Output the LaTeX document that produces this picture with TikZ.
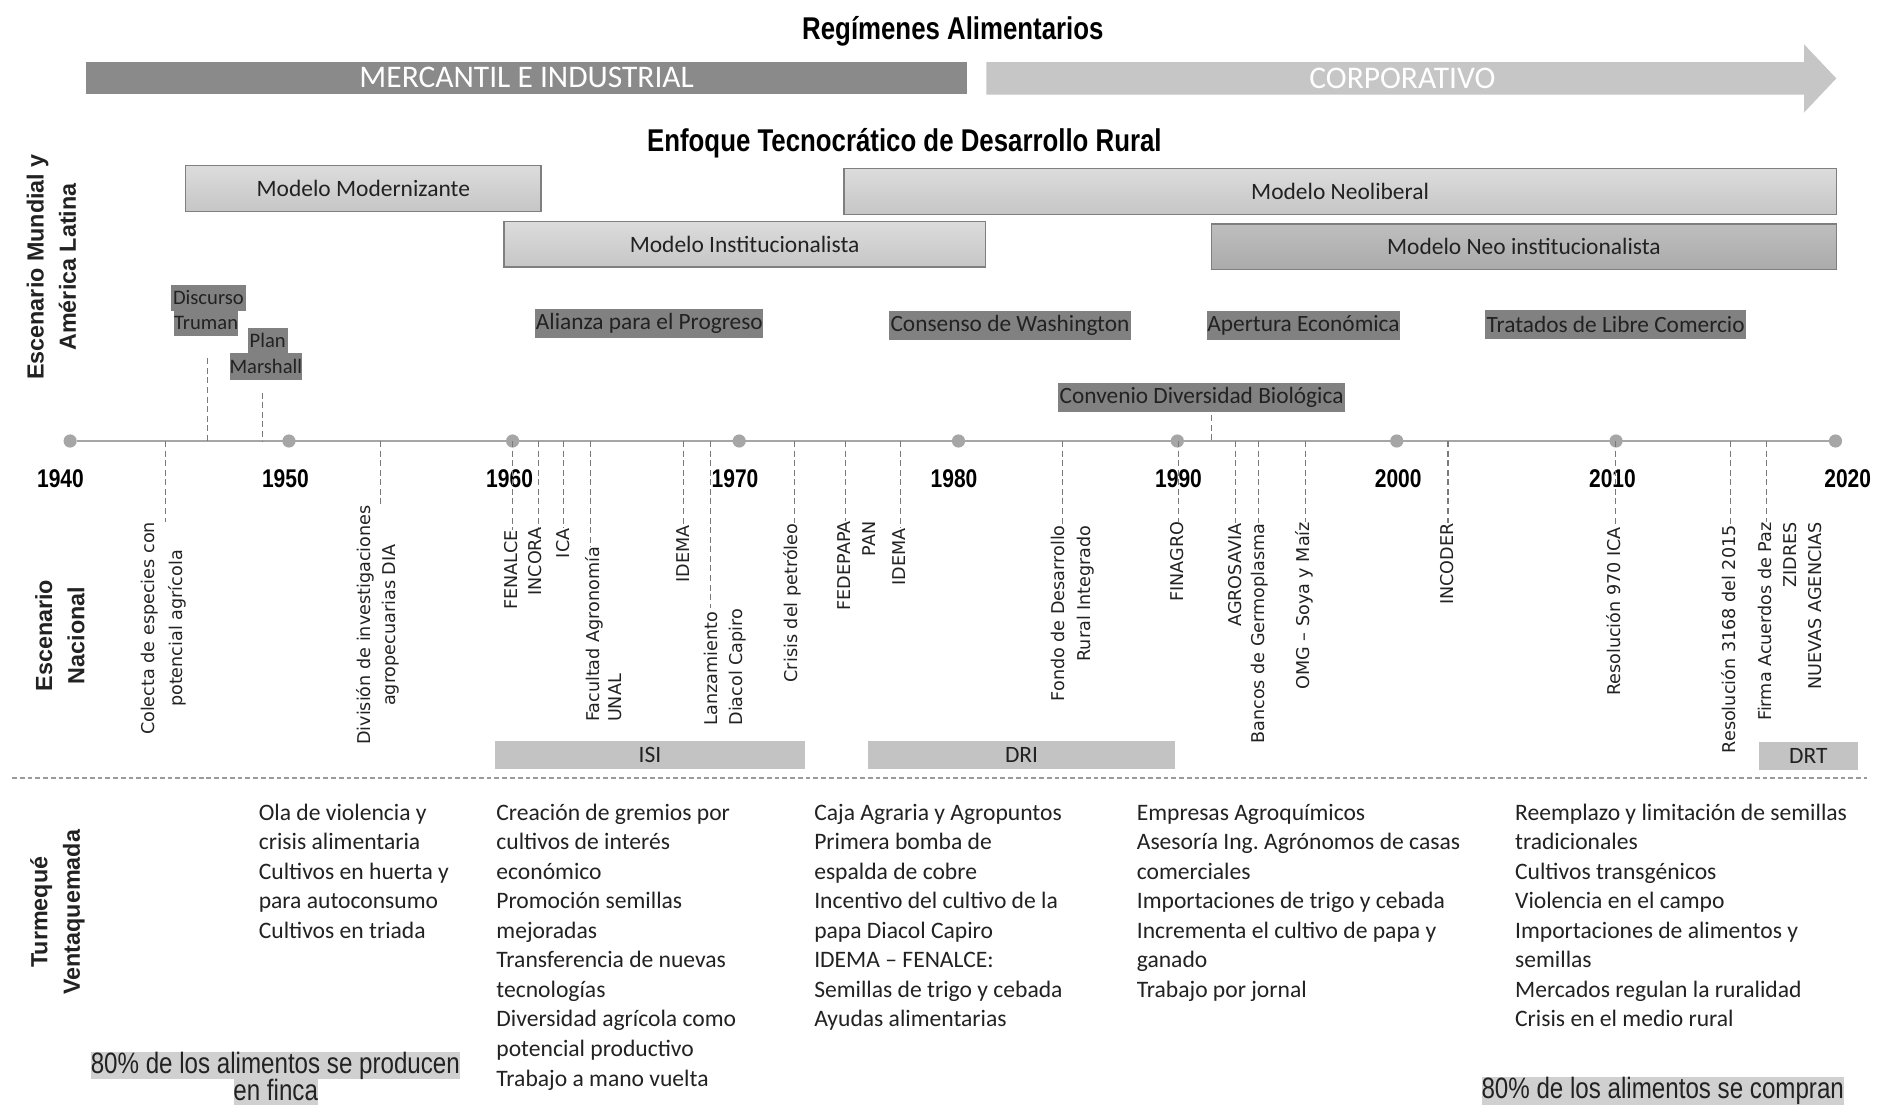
\documentclass[tikz,border=0pt]{standalone}
\usepackage{fontspec}
\setmainfont{Carlito}
\newfontfamily\narrowf[FakeStretch=0.82]{Liberation Sans}
\newfontfamily\sidef{Liberation Sans}
\newfontfamily\natf{DejaVu Sans}
\definecolor{darkbar}{HTML}{8A8A8A}
\definecolor{lightbar}{HTML}{C6C6C6}
\definecolor{modtop}{HTML}{DCDCDC}
\definecolor{modbot}{HTML}{C6C6C6}
\definecolor{neotop}{HTML}{BEBEBE}
\definecolor{neobot}{HTML}{ABABAB}
\definecolor{bordergray}{HTML}{7F7F7F}
\definecolor{evtfill}{HTML}{818181}
\definecolor{erafill}{HTML}{C3C3C3}
\definecolor{tlgray}{HTML}{A6A6A6}
\definecolor{tickgray}{HTML}{7A7A7A}
\definecolor{textdark}{HTML}{222222}
\definecolor{hlfill}{HTML}{D0D0D0}
\definecolor{sepgray}{HTML}{9A9A9A}
\frenchspacing
\begin{document}
\begin{tikzpicture}[x=1pt,y=-1pt,
  titlef/.style={inner sep=0pt, text=black, font=\narrowf\bfseries\fontsize{26.3}{30}\selectfont},
  regime/.style={inner sep=0pt, text=white, font=\fontsize{26.3}{30}\selectfont},
  model/.style={draw=bordergray, line width=1.1pt, top color=modtop, bottom color=modbot, inner sep=0pt, minimum height=38pt, text=textdark, font=\fontsize{19.6}{23}\selectfont},
  neomodel/.style={model, top color=neotop, bottom color=neobot},
  evt/.style={fill=evtfill, inner sep=0pt, text=textdark, font=\fontsize{19.5}{23}\selectfont},
  evtsmall/.style={evt, font=\fontsize{17.2}{20}\selectfont},
  dot/.style={circle, fill=tlgray, inner sep=0pt, minimum size=11pt},
  year/.style={inner sep=0pt, text=black, font=\narrowf\bfseries\fontsize{21.4}{24}\selectfont},
  side/.style={rotate=90, align=center, inner sep=0pt, text=textdark, font=\sidef\bfseries\fontsize{19.5}{27}\selectfont},
  nat/.style={rotate=90, anchor=east, inner sep=0pt, text=textdark, font=\natf\fontsize{14.7}{21}\selectfont},
  tick/.style={draw=tickgray, line width=0.9pt, dash pattern=on 5pt off 3pt},
  era/.style={fill=erafill, inner sep=0pt, minimum height=24pt, text=textdark, font=\fontsize{19.6}{23}\selectfont},
  col/.style={anchor=base west, inner sep=0pt, text=textdark, font=\fontsize{19.7}{24.7}\selectfont},
  hl/.style={fill=hlfill, inner xsep=0pt, inner ysep=0pt, minimum height=23pt, text=textdark, font=\narrowf\fontsize{24.6}{28}\selectfont},
  hltext/.style={inner sep=0pt, text=textdark, font=\narrowf\fontsize{24.6}{28}\selectfont}
]
\useasboundingbox[fill=white] (0,0) rectangle (1568,923);

% titles
\node[titlef] (title1) at (796,26.5) {Regímenes Alimentarios};
\node[titlef] (title2) at (755.5,119.5) {Enfoque Tecnocrático de Desarrollo Rural};

% regimes
\node[regime, fill=darkbar, minimum width=736pt, minimum height=26.5pt] (merc) at (440,65) {MERCANTIL E INDUSTRIAL};
\fill[lightbar] (824,52) -- (1507,52) -- (1507,37) -- (1534,65.5) -- (1507,94) -- (1507,79) -- (824,79) -- cycle;
\node[regime] (corp) at (1171.5,65.5) {CORPORATIVO};

% side labels
\node[side] (sideA) at (43,223) {Escenario Mundial y\\América Latina};
\node[side] (sideB) at (50,531) {Escenario\\Nacional};
\node[side] (sideC) at (48,762) {Turmequé\\Ventaquemada};

% models
\node[model, minimum width=297pt] (mmod) at (303.5,157.5) {Modelo Modernizante};
\node[model, minimum width=402pt] (minst) at (622,204) {Modelo Institucionalista};
\node[model, minimum width=829pt] (mneo) at (1119.5,160) {Modelo Neoliberal};
\node[neomodel, minimum width=522pt] (mneoi) at (1273,206) {Modelo Neo institucionalista};

% world events
\node[evtsmall, minimum width=62.6pt, minimum height=21.5pt] (disc) at (174.1,248.7) {Discurso};
\node[evtsmall, minimum width=54pt, minimum height=21.4pt] (trum) at (172.2,270.2) {Truman};
\node[evtsmall, minimum width=33.5pt, minimum height=21.4pt] (plan) at (223.6,284.4) {Plan};
\node[evtsmall, minimum width=60.6pt, minimum height=22.3pt] (mars) at (222.1,306.2) {Marshall};
\node[evt, minimum width=190.3pt, minimum height=24.2pt] (alia) at (542.4,270.5) {Alianza para el Progreso};
\node[evt, minimum width=201.8pt, minimum height=23.9pt] (cons) at (843.7,272) {Consenso de Washington};
\node[evt, minimum width=161.7pt, minimum height=24pt] (aper) at (1088.9,271.8) {Apertura Económica};
\node[evt, minimum width=218.3pt, minimum height=24.5pt] (trat) at (1349.7,271.2) {Tratados de Libre Comercio};
\node[evt, minimum width=239.2pt, minimum height=24.2pt] (conv) at (1003.8,332.3) {Convenio Diversidad Biológica};

% timeline
\node[dot] (d1940) at (58.6,368.4) {};
\node[dot] (d2020) at (1533.3,368.4) {};
\draw[tlgray, line width=2.3pt] (d1940) -- (d2020);
\node[dot] (d1950) at (241.4,368.4) {};
\node[dot] (d1960) at (428.2,368.4) {};
\node[dot] (d1970) at (617.5,368.4) {};
\node[dot] (d1980) at (800.7,368.4) {};
\node[dot] (d1990) at (983.5,368.4) {};
\node[dot] (d2000) at (1166.8,368.4) {};
\node[dot] (d2010) at (1350,368.4) {};

% upper dashed links
\coordinate (uTr) at (173.3,299.3);
\coordinate (uMa) at (218.9,328);
\coordinate (uCo) at (1012,346.7);
\draw[tick] (uTr) -- (uTr |- d1940);
\draw[tick] (uMa) -- (uMa |- d1940);
\draw[tick] (uCo) -- (uCo |- d1940);

% years
\node[year] (y1940) at (50.5,400) {1940};
\node[year] (y1950) at (238.4,400) {1950};
\node[year] (y1960) at (425.7,400) {1960};
\node[year] (y1970) at (614,400) {1970};
\node[year] (y1980) at (797,400) {1980};
\node[year] (y1990) at (984.5,400) {1990};
\node[year] (y2000) at (1168,400) {2000};
\node[year] (y2010) at (1347,400) {2010};
\node[year] (y2020) at (1543.5,400) {2020};

% national labels
\node[nat, align=center, font=\natf\fontsize{14.7}{23}\selectfont] (n1) at (136.5,435.8) {Colecta de especies con\\potencial agrícola};
\node[nat, align=center, font=\natf\fontsize{14.7}{20.5}\selectfont] (n2) at (315.5,421.9) {División de investigaciones\\agropecuarias DIA};
\node[nat] (n3) at (426.7,442.8) {FENALCE};
\node[nat] (n4) at (447.3,440.5) {INCORA};
\node[nat] (n5) at (470.8,441.4) {ICA};
\node[nat, align=left, font=\natf\fontsize{14.7}{18.8}\selectfont] (n6) at (504.1,456.7) {Facultad Agronomía\\UNAL};
\node[nat] (n7) at (571,438.6) {IDEMA};
\node[nat, align=left] (n8) at (605.5,508.2) {Lanzamiento\\Diacol Capiro};
\node[nat] (n9) at (662,437.2) {Crisis del petróleo};
\node[nat, align=right] (n10) at (715.5,435.3) {FEDEPAPA\\PAN};
\node[nat] (n11) at (751.3,441.4) {IDEMA};
\node[nat, align=right] (n12) at (896,438.6) {Fondo de Desarrollo\\Rural Integrado};
\node[nat] (n13) at (983.3,435.8) {FINAGRO};
\node[nat] (n14) at (1031.5,437.2) {AGROSAVIA};
\node[nat] (n15) at (1052.5,437.2) {Bancos de Germoplasma};
\node[nat] (n16) at (1089.9,435.8) {OMG – Soya y Maíz};
\node[nat] (n17) at (1208.8,437.2) {INCODER};
\node[nat] (n18) at (1348,440) {Resolución 970 ICA};
\node[nat] (n19) at (1444.4,438.6) {Resolución 3168 del 2015};
\node[nat, align=right, font=\natf\fontsize{14.7}{20.75}\selectfont] (n20) at (1495.2,436) {Firma Acuerdos de Paz\\ZIDRES\\NUEVAS AGENCIAS};

% national ticks
\foreach \nm/\xx in {n1/138.2, n2/317.5, n3/428.2, n4/449.8, n5/470.8, n6/493.3, n7/571, n8/593.5, n9/663.6, n10/706.2, n11/752.3, n12/887.6, n13/984.8, n14/1032, n15/1051.6, n16/1090.6, n17/1209.6, n18/1349.6, n19/1445.3, n20/1475.4}{
  \coordinate (t\nm) at (\xx,368.4);
  \draw[tick] (t\nm) -- (t\nm |- \nm.east);
}

% era bars
\node[era, minimum width=258.5pt] (isi) at (543,630.7) {ISI};
\node[era, minimum width=256.3pt] (dri) at (853.4,630.7) {DRI};
\node[era, minimum width=82.4pt, minimum height=23.7pt] (drt) at (1510.6,631.4) {DRT};

% separator
\coordinate (s1) at (10,650);
\coordinate (s2) at (1560,650);
\draw[sepgray, line width=1.1pt, dash pattern=on 4pt off 2.5pt] (s1) -- (s2);

% local columns
\node[col] (c1) at (216,685) {\parbox[t]{190pt}{\raggedright Ola de violencia y\\crisis alimentaria\\Cultivos en huerta y\\para autoconsumo\\Cultivos en triada}};
\node[col] (c2) at (414.5,685) {\parbox[t]{250pt}{\raggedright Creación de gremios por\\cultivos de interés\\económico\\Promoción semillas\\mejoradas\\Transferencia de nuevas\\tecnologías\\Diversidad agrícola como\\potencial productivo\\Trabajo a mano vuelta}};
\node[col] (c3) at (680,685) {\parbox[t]{260pt}{\raggedright Caja Agraria y Agropuntos\\Primera bomba de\\espalda de cobre\\Incentivo del cultivo de la\\papa Diacol Capiro\\IDEMA – FENALCE:\\Semillas de trigo y cebada\\Ayudas alimentarias}};
\node[col] (c4) at (949.5,685) {\parbox[t]{300pt}{\raggedright Empresas Agroquímicos\\Asesoría Ing. Agrónomos de casas\\comerciales\\Importaciones de trigo y cebada\\Incrementa el cultivo de papa y\\ganado\\Trabajo por jornal}};
\node[col] (c5) at (1265.5,685) {\parbox[t]{300pt}{\raggedright Reemplazo y limitación de semillas\\tradicionales\\Cultivos transgénicos\\Violencia en el campo\\Importaciones de alimentos y\\semillas\\Mercados regulan la ruralidad\\Crisis en el medio rural}};

% highlighted notes
\node[hl] (h1) at (230,890.2) {80\% de los alimentos se producen};
\fill[hlfill] (195.3,901.7) rectangle (265.4,923);
\node[hltext, anchor=base] (h2) at (230.3,919.5) {en finca};
\node[hl, minimum height=23pt] (h3) at (1389,911.5) {80\% de los alimentos se compran};
\end{tikzpicture}
\end{document}
